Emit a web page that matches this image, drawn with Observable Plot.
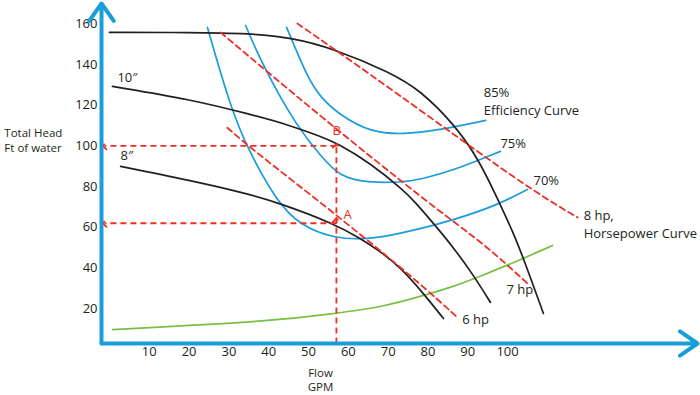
<!DOCTYPE html>
<html>
<head>
<meta charset="utf-8">
<script src="https://cdn.jsdelivr.net/npm/d3@7"></script>
<script src="https://cdn.jsdelivr.net/npm/@observablehq/plot@0.6"></script>
<style>
  html, body { margin: 0; padding: 0; background: #fff; }
</style>
</head>
<body>
<div id="chart"></div>
<script>
// Axis ticks
const xTicks = [10, 20, 30, 40, 50, 60, 70, 80, 90, 100];
const yTicks = [20, 40, 60, 80, 100, 120, 140, 160];

// Impeller (head–flow) curves: [GPM, ft]
const impellerTop = [[0,155.7],[20.4,155.7],[35.4,155.2],[45.5,153.2],[56.3,147.8],[70.6,136],[78.1,127.2],[86.4,111],[92.5,94.3],[97.7,73.2],[101.5,57],[104,44.7],[109,17.7]];
const impeller10 = [[0.75,129.2],[20.4,122.8],[35.4,115.5],[45.5,110],[53,104.6],[57.3,101.2],[65.6,91.4],[73.9,78.1],[76.4,73.2],[81.4,61.9],[86.4,50.1],[91.5,36.3],[95.7,23.1]];
const impeller8 = [[2.8,89.9],[22.9,82],[35.4,76.1],[42.2,72.2],[56.3,61.9],[63.1,54.5],[68.1,48],[73.1,40.3],[78.9,27.5],[83.9,15.2]];

// System curve
const systemCurve = [[0.75,9.8],[43,14.2],[56.3,17.7],[68.1,20.6],[78.9,26.5],[85.7,30.5],[92.5,35.4],[104,44.7],[111.3,51.1]];

// Efficiency curves
const eff70 = [[24.6,158.2],[30.4,118.9],[34.9,97.7],[42.2,72.2],[48,60.9],[56.3,54.5],[64.8,54],[73.1,57],[81.4,60.9],[90,65.8],[98.2,71.7],[105,78.6]];
const eff75 = [[34.2,159.1],[38.7,138.5],[47.2,109],[53,95.3],[58,84.5],[64.8,82],[73.1,82],[78.1,83.5],[86.4,87.9],[98.2,97.3]];
const eff85 = [[44.5,158.2],[49.7,133.6],[53,123.8],[58,114.9],[65.6,106.6],[73.9,105.6],[82.4,107.6],[94.5,112.5]];

// Horsepower curves
const hp6 = [[29.6,108.9],[36.2,97.7],[56.3,67.3],[78.1,32.4],[87.4,15.7]];
const hp7 = [[27.9,155.7],[53,114.4],[82.4,68.3],[94,52.1],[105,32.4]];
const hp8 = [[47.2,160.1],[71.3,127.2],[104.8,79.6],[117.6,64.8]];

// Operating point readings
const pointFlow = 57;
const pointHeadB = 100;
const pointHeadA = 62;

// Labels [x, y, text]
const curveLabels = [
  [2, 133.6, "10″"],
  [2.8, 95.3, "8″"],
  [94, 126.2, "85%"],
  [94, 117.4, "Efficiency Curve"],
  [98.2, 101.2, "75%"],
  [106.5, 83, "70%"],
  [119.1, 65.8, "8 hp,"],
  [119.1, 57, "Horsepower Curve"],
  [99.7, 29.5, "7 hp"],
  [88.6, 14.7, "6 hp"]
];
const pointLabels = [[58.8, 66.3, "A"], [56, 107.6, "B"]];
const yTitle = [[-26.4, 106.1, "Total Head"], [-26.4, 98.8, "Ft of water"]];
const xTitle = [[53, -11.8, "Flow"], [53, -18.7, "GPM"]];

const xDomain = [-2, 147.7];
const yDomain = [2.95, 169.9];

const BLUE = "#1a9ddb", BLACK = "#231f20", GREEN = "#79c043", RED = "#ee2d24";

const toRows = (arr) => arr.map(([x, y]) => ({x, y}));
const lineOf = (arr, stroke, extra = {}) =>
  Plot.line(toRows(arr), {x: "x", y: "y", stroke, strokeWidth: 1.7, curve: "basis", ...extra});

const refLinks = [
  {x1: pointFlow, y1: pointHeadB, x2: xDomain[0] + 0.8, y2: pointHeadB},
  {x1: pointFlow, y1: pointHeadA, x2: xDomain[0] + 0.8, y2: pointHeadA},
  {x1: pointFlow, y1: yDomain[0], x2: pointFlow, y2: pointHeadA + 1.5},
  {x1: pointFlow, y1: pointHeadA, x2: pointFlow, y2: pointHeadB}
];

const chart = Plot.plot({
  width: 700,
  height: 395,
  marginLeft: 101,
  marginRight: 3,
  marginTop: 3,
  marginBottom: 52,
  x: {domain: xDomain, axis: null},
  y: {domain: yDomain, axis: null},
  style: {fontFamily: "'Open Sans', sans-serif", fontSize: "13px", color: BLACK, overflow: "visible"},
  marks: [
    Plot.axisX(xTicks, {tickSize: 0, tickPadding: 3, fontSize: 13, fill: BLACK}),
    Plot.axisY(yTicks, {tickSize: 0, tickPadding: 4, fontSize: 13, fill: BLACK}),
    lineOf(systemCurve, GREEN),
    lineOf(eff70, BLUE),
    lineOf(eff75, BLUE),
    lineOf(eff85, BLUE),
    lineOf(impellerTop, BLACK),
    lineOf(impeller10, BLACK),
    lineOf(impeller8, BLACK),
    lineOf(hp6, RED, {strokeDasharray: "6,4", strokeWidth: 1.8}),
    lineOf(hp7, RED, {strokeDasharray: "6,4", strokeWidth: 1.8}),
    lineOf(hp8, RED, {strokeDasharray: "6,4", strokeWidth: 1.8}),
    Plot.link(refLinks, {x1: "x1", y1: "y1", x2: "x2", y2: "y2", stroke: RED, strokeWidth: 1.8, strokeDasharray: "6,4", markerEnd: "arrow"}),
    Plot.text(curveLabels, {x: d => d[0], y: d => d[1], text: d => d[2], textAnchor: "start", fontSize: 13, fill: BLACK}),
    Plot.text(pointLabels, {x: d => d[0], y: d => d[1], text: d => d[2], textAnchor: "start", fontSize: 13, fill: RED}),
    Plot.text(yTitle, {x: d => d[0], y: d => d[1], text: d => d[2], textAnchor: "start", fontSize: 11.5, fill: BLACK}),
    Plot.text(xTitle, {x: d => d[0], y: d => d[1], text: d => d[2], textAnchor: "middle", fontSize: 11.5, fill: BLACK}),
    Plot.arrow([0], {x1: xDomain[0], y1: yDomain[0], x2: xDomain[0], y2: yDomain[1], stroke: BLUE, strokeWidth: 4, headLength: 8, headAngle: 70}),
    Plot.arrow([0], {x1: xDomain[0], y1: yDomain[0], x2: xDomain[1], y2: yDomain[0], stroke: BLUE, strokeWidth: 4, headLength: 8, headAngle: 70})
  ]
});
document.getElementById("chart").appendChild(chart);
</script>
</body>
</html>
